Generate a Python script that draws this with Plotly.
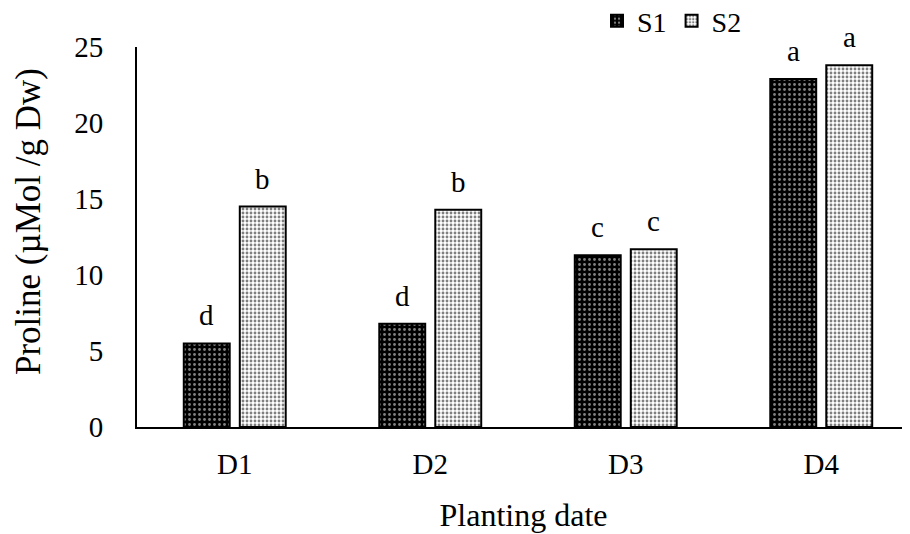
import plotly.graph_objects as go

categories = ["D1", "D2", "D3", "D4"]
s1_values = [5.5, 6.8, 11.3, 22.9]
s2_values = [14.5, 14.3, 11.7, 23.8]
s1_letters = ["d", "d", "c", "a"]
s2_letters = ["b", "b", "c", "a"]
y_ticks = [0, 5, 10, 15, 20, 25]

FONT = "Liberation Serif, Times New Roman, serif"
FS = 29

# The page body adds an 8px margin, so the figure is sized/offset to compensate.
W, H = 902, 526

fig = go.Figure()
fig.add_trace(go.Bar(
    name="S1", x=categories, y=s1_values,
    marker=dict(color="black", line=dict(color="black", width=2),
                pattern=dict(shape=".", bgcolor="black", fgcolor="white", size=5, solidity=0.25)),
))
fig.add_trace(go.Bar(
    name="S2", x=categories, y=s2_values,
    marker=dict(color="white", line=dict(color="black", width=2),
                pattern=dict(shape=".", bgcolor="white", fgcolor="black", size=4, solidity=0.4)),
))

annotations = []
for i, c in enumerate(categories):
    annotations.append(dict(x=c, y=s1_values[i], text=s1_letters[i], xshift=-28, yshift=10,
                            yanchor="bottom", showarrow=False, font=dict(family=FONT, size=FS, color="black")))
    annotations.append(dict(x=c, y=s2_values[i], text=s2_letters[i], xshift=28, yshift=10,
                            yanchor="bottom", showarrow=False, font=dict(family=FONT, size=FS, color="black")))

# y-axis title placed as a rotated annotation to match the reference position
annotations.append(dict(xref="paper", yref="paper", x=0, y=(427 - 222) / 380, xshift=-109,
                        xanchor="center", yanchor="middle", textangle=-90, showarrow=False,
                        text="Proline (µMol /g Dw)", font=dict(family=FONT, size=35, color="black")))

fig.update_layout(
    width=W, height=H,
    margin=dict(l=129, r=0, t=39, b=107, autoexpand=False),
    paper_bgcolor="white", plot_bgcolor="white",
    font=dict(family=FONT, size=FS, color="black"),
    barmode="group", bargap=0.427, bargroupgap=0.18,
    showlegend=True,
    legend=dict(orientation="h", xref="container", yref="container",
                x=0.653, y=1 - 13 / H, xanchor="left", yanchor="middle",
                font=dict(family=FONT, size=28), itemwidth=30, traceorder="normal",
                bgcolor="rgba(0,0,0,0)"),
    annotations=annotations,
    xaxis=dict(range=[-0.5, 3.454], showline=True, linecolor="black", linewidth=2,
               ticks="", showgrid=False, tickfont=dict(family=FONT, size=FS),
               ticklabelstandoff=10, automargin=False,
               title=dict(text="Planting date", font=dict(family=FONT, size=32), standoff=25)),
    yaxis=dict(range=[0, 25], tickvals=y_ticks, showline=True, linecolor="black", linewidth=2,
               ticks="", showgrid=False, zeroline=False, tickfont=dict(family=FONT, size=FS),
               ticklabelstandoff=26, automargin=False),
)

fig.write_html("out.html")
